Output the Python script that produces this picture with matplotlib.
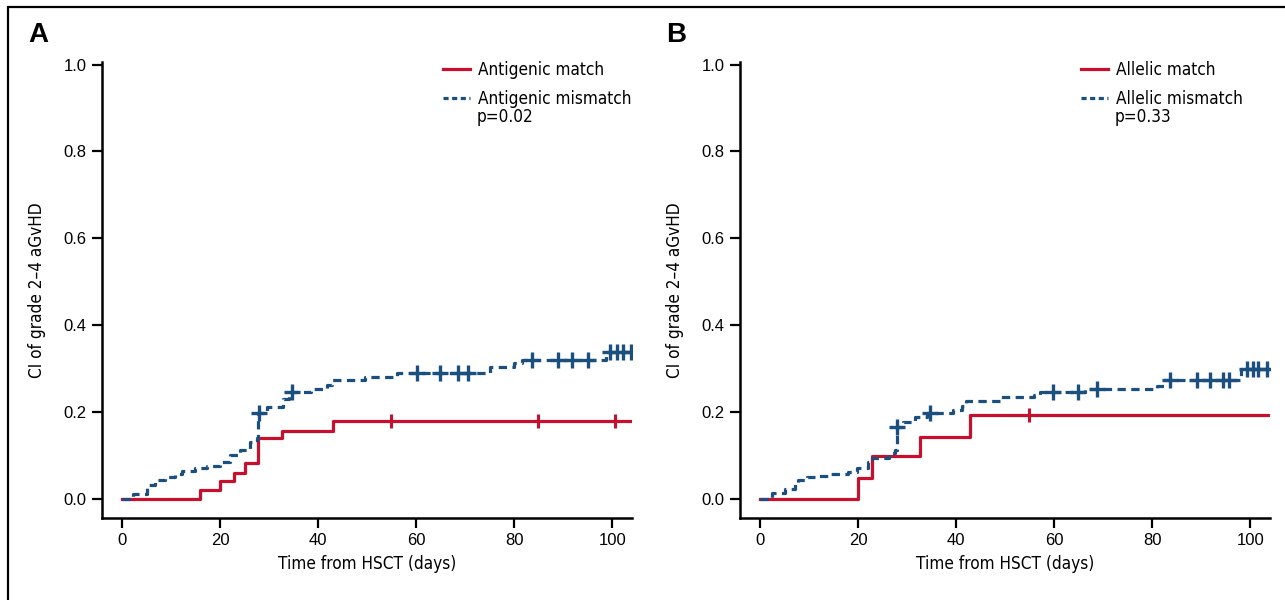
import numpy as np
import matplotlib
matplotlib.use('Agg')
import matplotlib.pyplot as plt
from matplotlib import font_manager
from matplotlib.lines import Line2D

# event times (days) and cumulative incidence for each curve
a_match_t = [0, 15.8, 19.9, 22.9, 25.0, 27.8, 32.7, 43.0, 104]
a_match_y = [0, 0.020, 0.041, 0.060, 0.082, 0.140, 0.157, 0.179, 0.179]
a_match_cens = [54.9, 84.8, 100.6]

a_mis_t = [0, 2.3, 5.0, 6.7, 8.7, 10.8, 12.2, 14.9, 17.3, 20.0, 22.0, 24.0, 26.0, 27.5,
           27.8, 29.5, 32.9, 34.0, 38.5, 41.8, 42.8, 49.6, 56.0, 75.0, 80.0, 81.6, 98.6, 104]
a_mis_y = [0, 0.011, 0.032, 0.044, 0.051, 0.057, 0.065, 0.070, 0.076, 0.086, 0.100, 0.113, 0.130, 0.140,
           0.198, 0.212, 0.231, 0.245, 0.252, 0.262, 0.274, 0.281, 0.289, 0.304, 0.312, 0.320, 0.339, 0.339]
a_mis_cens = [28.0, 34.6, 60.1, 64.8, 68.6, 70.6, 83.7, 89.0, 91.8, 95.1, 99.6, 101.0, 102.2, 103.7]

b_match_t = [0, 19.9, 22.9, 32.7, 42.9, 104]
b_match_y = [0, 0.047, 0.099, 0.142, 0.193, 0.193]
b_match_cens = [54.8]

b_mis_t = [0, 2.4, 5.1, 7.1, 7.8, 9.5, 11.6, 14.0, 18.0, 19.7, 22.1, 22.8, 26.2, 27.5, 27.9,
           29.1, 31.5, 34.0, 39.4, 41.2, 41.9, 49.0, 55.8, 57.1, 66.3, 81.0, 82.3, 98.0, 104]
b_mis_y = [0, 0.013, 0.022, 0.037, 0.044, 0.050, 0.053, 0.057, 0.063, 0.070, 0.086, 0.094, 0.105, 0.113, 0.166,
           0.178, 0.189, 0.198, 0.205, 0.214, 0.226, 0.234, 0.239, 0.245, 0.252, 0.260, 0.274, 0.298, 0.298]
b_mis_cens = [27.9, 34.7, 59.8, 64.8, 68.7, 83.7, 89.1, 91.7, 94.4, 95.6, 99.3, 100.5, 101.5, 103.4]

panels = [
    ('A', 'Antigenic match', 'Antigenic mismatch', 'p=0.02',
     a_match_t, a_match_y, a_match_cens, a_mis_t, a_mis_y, a_mis_cens),
    ('B', 'Allelic match', 'Allelic mismatch', 'p=0.33',
     b_match_t, b_match_y, b_match_cens, b_mis_t, b_mis_y, b_mis_cens),
]

xticks = [0, 20, 40, 60, 80, 100]
yticks = [0.0, 0.2, 0.4, 0.6, 0.8, 1.0]

red = '#c8102e'
blue = '#1b4f7e'
dash = (0, (2.6, 1.7))

# look for a condensed face, else use Liberation Sans
cond = None
for f in font_manager.fontManager.ttflist:
    low = (f.name + ' ' + f.fname).lower()
    if 'condensed' in low or 'narrow' in low:
        if 'bold' not in low and 'italic' not in low and 'oblique' not in low:
            cond = f
            break
plt.rcParams['font.family'] = ['Liberation Sans', 'DejaVu Sans']
if cond is not None:
    lab_font = font_manager.FontProperties(fname=cond.fname)
    lab_size = 12.3
else:
    lab_font = font_manager.FontProperties(family='Liberation Sans')
    lab_size = 11.5


def value_at(t, y, c):
    idx = np.searchsorted(np.array(t), np.array(c), side='right') - 1
    return np.array(y)[idx]


fig = plt.figure(figsize=(12.85, 6), dpi=100)

# outer frame
fig.add_artist(plt.Rectangle((8 / 1285, -0.05), 1.2, 1.05 - 7 / 600, transform=fig.transFigure,
                             fill=False, edgecolor='black', linewidth=1.6))

lefts = [102 / 1285, 740 / 1285]
for (letter, lab1, lab2, ptxt, t1, y1, c1, t2, y2, c2), left in zip(panels, lefts):
    ax = fig.add_axes([left, 82 / 600, 530 / 1285, 456 / 600])
    ax.step(t1, y1, where='post', color=red, lw=2.3, zorder=3)
    ax.plot(c1, value_at(t1, y1, c1), ls='none', marker='|', ms=10, mew=2.2, color=red, zorder=3)
    ax.step(t2, y2, where='post', color=blue, lw=2.3, ls=dash, zorder=4)
    ax.plot(c2, value_at(t2, y2, c2), ls='none', marker='+', ms=11, mew=2.4, color=blue, zorder=4)

    ax.set_xlim(-4.1, 104)
    ax.set_ylim(-0.044, 1.006)
    ax.set_xticks(xticks)
    ax.set_yticks(yticks)
    ax.set_yticklabels(['%.1f' % v for v in yticks])
    ax.spines['top'].set_visible(False)
    ax.spines['right'].set_visible(False)
    for s in ['left', 'bottom']:
        ax.spines[s].set_linewidth(1.8)
    ax.tick_params(length=7, width=1.6, labelsize=12, pad=4)
    lp = lab_font.copy()
    lp.set_size(lab_size)
    ax.set_xlabel('Time from HSCT (days)', fontproperties=lp, labelpad=5)
    ax.set_ylabel('CI of grade 2\u20134 aGvHD', fontproperties=lp, labelpad=13)

    handles = [Line2D([], [], color=red, lw=2.3),
               Line2D([], [], color=blue, lw=2.3, ls=(0, (1.6, 1.1)))]
    legp = lab_font.copy()
    legp.set_size(lab_size)
    ax.legend(handles, [lab1, lab2], loc='upper left', bbox_to_anchor=(0.6145, 1.035),
              frameon=False, handlelength=1.55, handletextpad=0.5, labelspacing=0.62,
              prop=legp)
    ax.text(0.707, 0.879, ptxt, transform=ax.transAxes, fontproperties=legp,
            va='center', ha='left')

    fig.text(left - 74 / 1285, 1 - 35 / 600, letter, fontsize=20, fontweight='bold',
             family=['Liberation Sans', 'DejaVu Sans'], va='center', ha='left')

fig.savefig('out.png', dpi=100)
plt.close(fig)
